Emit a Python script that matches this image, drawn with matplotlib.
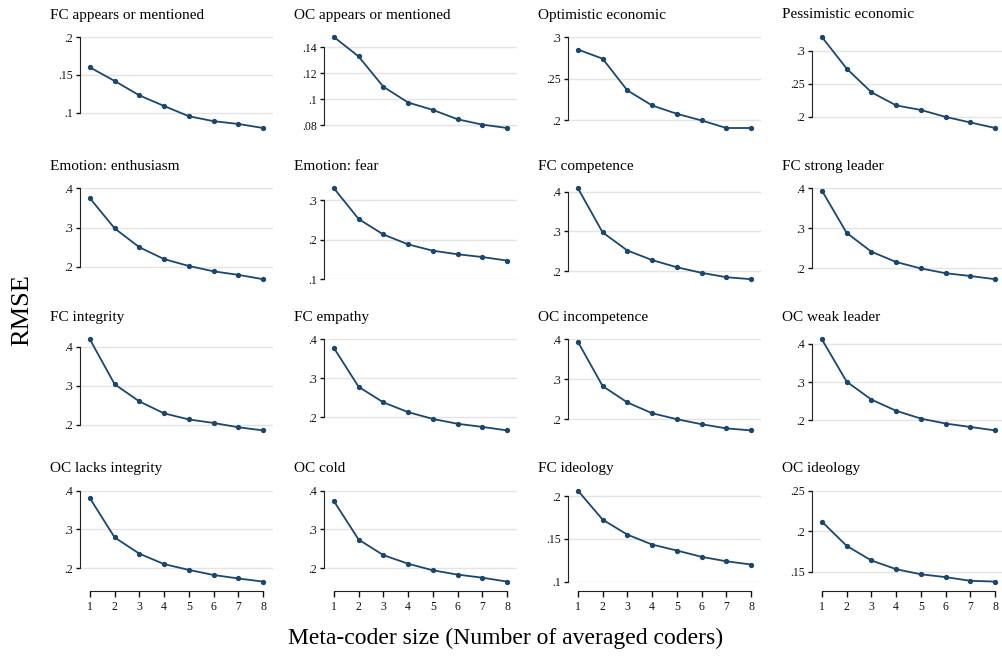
import matplotlib
matplotlib.use("Agg")
import matplotlib.pyplot as plt

plt.rcParams['font.family'] = ['Liberation Serif', 'DejaVu Serif']

coders = [1, 2, 3, 4, 5, 6, 7, 8]

titles = [
    "FC appears or mentioned", "OC appears or mentioned", "Optimistic economic", "Pessimistic economic",
    "Emotion: enthusiasm", "Emotion: fear", "FC competence", "FC strong leader",
    "FC integrity", "FC empathy", "OC incompetence", "OC weak leader",
    "OC lacks integrity", "OC cold", "FC ideology", "OC ideology",
]

fc_appears = [0.160, 0.142, 0.123, 0.109, 0.0955, 0.089, 0.0853, 0.080]
oc_appears = [0.148, 0.133, 0.1097, 0.0976, 0.0919, 0.0847, 0.0806, 0.078]
optimistic = [0.285, 0.274, 0.236, 0.218, 0.208, 0.200, 0.191, 0.191]
pessimistic = [0.321, 0.273, 0.237, 0.217, 0.210, 0.1995, 0.191, 0.1826]
enthusiasm = [0.3745, 0.298, 0.250, 0.220, 0.2025, 0.189, 0.180, 0.169]
fear = [0.330, 0.252, 0.213, 0.188, 0.172, 0.163, 0.156, 0.147]
fc_competence = [0.4085, 0.2975, 0.252, 0.228, 0.210, 0.196, 0.185, 0.180]
fc_strong = [0.394, 0.288, 0.241, 0.215, 0.199, 0.187, 0.180, 0.172]
fc_integrity = [0.4186, 0.304, 0.260, 0.2295, 0.214, 0.205, 0.194, 0.186]
fc_empathy = [0.378, 0.278, 0.238, 0.213, 0.1955, 0.183, 0.175, 0.166]
oc_incompetence = [0.394, 0.283, 0.242, 0.215, 0.200, 0.1875, 0.177, 0.172]
oc_weak = [0.412, 0.301, 0.254, 0.2245, 0.204, 0.191, 0.182, 0.173]
oc_lacks_integrity = [0.3805, 0.2795, 0.2377, 0.211, 0.196, 0.183, 0.174, 0.166]
oc_cold = [0.373, 0.274, 0.234, 0.212, 0.195, 0.184, 0.176, 0.166]
fc_ideology = [0.2066, 0.1726, 0.155, 0.1434, 0.1364, 0.129, 0.1238, 0.120]
oc_ideology = [0.2118, 0.182, 0.164, 0.1533, 0.147, 0.1435, 0.139, 0.138]

series = [fc_appears, oc_appears, optimistic, pessimistic,
          enthusiasm, fear, fc_competence, fc_strong,
          fc_integrity, fc_empathy, oc_incompetence, oc_weak,
          oc_lacks_integrity, oc_cold, fc_ideology, oc_ideology]

yticks = [
    [0.1, 0.15, 0.2], [0.08, 0.1, 0.12, 0.14], [0.2, 0.25, 0.3], [0.2, 0.25, 0.3],
    [0.2, 0.3, 0.4], [0.1, 0.2, 0.3], [0.2, 0.3, 0.4], [0.2, 0.3, 0.4],
    [0.2, 0.3, 0.4], [0.2, 0.3, 0.4], [0.2, 0.3, 0.4], [0.2, 0.3, 0.4],
    [0.2, 0.3, 0.4], [0.2, 0.3, 0.4], [0.1, 0.15, 0.2], [0.15, 0.2, 0.25],
]

W, H = 1002, 656
fig = plt.figure(figsize=(W / 100, H / 100), dpi=100)

navy = '#1a476f'
grid_col = '#e4e4e4'

def fmt(v):
    s = ('%g' % v)
    return s[1:] if s.startswith('0') else s

for i in range(16):
    r, c = divmod(i, 4)
    left = 80 + 244 * c
    top = 37 + 151.2 * r
    ax = fig.add_axes([left / W, 1 - (top + 91) / H, 193 / W, 91 / H])
    y = series[i]
    ticks = yticks[i]
    lo = min(min(y), ticks[0])
    hi = max(max(y), ticks[-1])
    ax.set_xlim(0.6, 8.4)
    ax.set_ylim(lo, hi)
    for t in ticks:
        ax.axhline(t, color=grid_col, lw=1.0, zorder=0)
    ax.plot(coders, y, color=navy, lw=1.3, marker='o', ms=2.8, zorder=3, clip_on=False)
    ax.set_yticks(ticks)
    ax.set_yticklabels([fmt(t) for t in ticks], fontsize=8.5)
    ax.tick_params(axis='y', length=3, width=1, pad=2, colors='#111111')
    for s in ['top', 'right']:
        ax.spines[s].set_visible(False)
    ax.spines['left'].set_bounds(ticks[0], ticks[-1])
    ax.spines['left'].set_color('#222222')
    if r == 3:
        ax.spines['bottom'].set_position(('outward', 7))
        ax.spines['bottom'].set_bounds(1, 8)
        ax.spines['bottom'].set_color('#222222')
        ax.set_xticks(coders)
        ax.set_xticklabels([str(v) for v in coders], fontsize=8.5)
        ax.tick_params(axis='x', length=4.5, width=1, pad=2.5, colors='#111111')
    else:
        ax.spines['bottom'].set_visible(False)
        ax.set_xticks([])
    ax.patch.set_visible(False)
    fig.text((left - 30) / W, 1 - 15 / H - 151.2 * r / H, titles[i],
             fontsize=11, ha='left', va='center')

fig.text(22 / W, 1 - 310 / H, 'RMSE', rotation=90, fontsize=19, ha='center', va='center')
fig.text(506 / W, 1 - 638 / H, 'Meta-coder size (Number of averaged coders)',
         fontsize=17, ha='center', va='center')

fig.savefig('out.png', dpi=100, facecolor='white')
plt.close(fig)
